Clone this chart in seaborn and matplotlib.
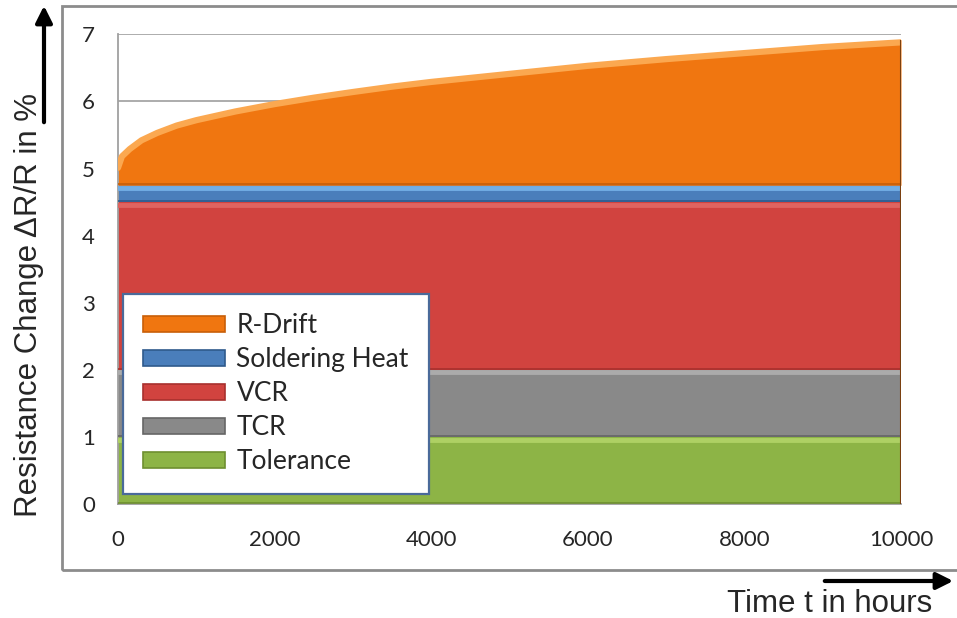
import numpy as np
import matplotlib.pyplot as plt
import seaborn as sns
from matplotlib.patches import Rectangle, Patch

# ---- data ----
hours = [0, 50, 150, 300, 500, 750, 1000, 1500, 2000, 2500, 3000, 3500,
         4000, 5000, 6000, 7000, 8000, 9000, 10000]
tolerance = [1.0, 1.0, 1.0, 1.0, 1.0, 1.0, 1.0, 1.0, 1.0, 1.0, 1.0, 1.0,
             1.0, 1.0, 1.0, 1.0, 1.0, 1.0, 1.0]
tcr = [1.0, 1.0, 1.0, 1.0, 1.0, 1.0, 1.0, 1.0, 1.0, 1.0, 1.0, 1.0,
       1.0, 1.0, 1.0, 1.0, 1.0, 1.0, 1.0]
vcr = [2.5, 2.5, 2.5, 2.5, 2.5, 2.5, 2.5, 2.5, 2.5, 2.5, 2.5, 2.5,
       2.5, 2.5, 2.5, 2.5, 2.5, 2.5, 2.5]
soldering = [0.25, 0.25, 0.25, 0.25, 0.25, 0.25, 0.25, 0.25, 0.25, 0.25, 0.25, 0.25,
             0.25, 0.25, 0.25, 0.25, 0.25, 0.25, 0.25]
r_drift = [0.30, 0.47, 0.58, 0.71, 0.82, 0.93, 1.01, 1.14, 1.25, 1.345, 1.43, 1.51,
           1.58, 1.70, 1.82, 1.92, 2.01, 2.10, 2.17]

series_names = ["Tolerance", "TCR", "VCR", "Soldering Heat", "R-Drift"]
x_tick_values = [0, 1000, 2000, 3000, 4000, 5000, 6000, 7000, 8000, 9000, 10000]
x_tick_labels = ["0", "", "2000", "", "4000", "", "6000", "", "8000", "", "10000"]
y_tick_values = [0, 1, 2, 3, 4, 5, 6, 7]

fill_colors = ["#8DB446", "#898989", "#D1433F", "#4A7EBB", "#F07610"]
edge_colors = ["#6E8F30", "#666666", "#A8302D", "#2F5A8C", "#C85F08"]
light_colors = ["#AED064", "#ABABAB", "#E06460", "#72AEE6", "#FBA850"]

sns.set_theme(style="white")
plt.rcParams["font.family"] = ["Lato", "DejaVu Sans"]

W, H = 957, 618
fig = plt.figure(figsize=(W / 100, H / 100), dpi=100)
ax = fig.add_axes([118 / W, 1 - 504 / H, 783 / W, 469.7 / H])

ax.set_xlim(0, 10000)
ax.set_ylim(0, 7)
ax.set_axisbelow(True)
ax.yaxis.grid(True, color="#A6A6A6", lw=1.3)
ax.xaxis.grid(False)

layers = [tolerance, tcr, vcr, soldering, r_drift]
ax.stackplot(hours, *layers, colors=fill_colors, lw=0, zorder=2)

# bevel-ish highlights on each band
lower = np.zeros(len(hours))
for i, (vals, light, dark) in enumerate(zip(layers, light_colors, edge_colors)):
    upper = lower + np.array(vals)
    top_w = 4.5 if i == len(layers) - 1 else 3.5
    sns.lineplot(x=hours, y=upper - 0.04, color=light, lw=top_w, ax=ax, zorder=3)
    sns.lineplot(x=hours, y=lower + 0.015, color=dark, lw=1.2, ax=ax, zorder=3)
    lower = upper
ax.vlines(10000, 0, lower[-1], color="#7A4010", lw=1.5, zorder=4)

ax.set_xticks(x_tick_values)
ax.set_xticklabels(x_tick_labels)
ax.set_yticks(y_tick_values)
ax.tick_params(axis="both", direction="out", color="#A0A0A0", width=1.3,
               labelsize=16, labelcolor="#262626")
ax.tick_params(axis="y", length=7.5, pad=9)
ax.tick_params(axis="x", length=5.5, pad=13)
for side in ["top", "right"]:
    ax.spines[side].set_visible(False)
for side in ["left", "bottom"]:
    ax.spines[side].set_color("#A0A0A0")
    ax.spines[side].set_linewidth(1.3)
ax.set_xlabel("")
ax.set_ylabel("")

handles = [Patch(facecolor=c, edgecolor=e, lw=1.2)
           for c, e in zip(fill_colors, edge_colors)][::-1]
leg = ax.legend(handles, series_names[::-1], loc="lower left",
                bbox_to_anchor=(123 / W, 1 - 494 / H), bbox_transform=fig.transFigure,
                borderaxespad=0, frameon=True, fancybox=False, framealpha=1,
                edgecolor="#4A6A9A", fontsize=19, handlelength=3.1, handleheight=0.55,
                labelspacing=0.34, borderpad=0.75, handletextpad=0.45)
leg.get_frame().set_linewidth(1.6)
leg.set_zorder(10)

# outer chart border
fig.add_artist(Rectangle((62 / W, 1 - 570 / H), 1.0, 564 / H, transform=fig.transFigure,
                         fill=False, ec="#8C8C8C", lw=2))

# axis titles with arrows
fig.text(29 / W, 1 - 305 / H, "Resistance Change ΔR/R in %", rotation=90,
         ha="center", va="center", fontsize=22.5, family=["Liberation Sans"])
fig.text(830 / W, 1 - 604 / H, "Time t in hours", ha="center", va="center",
         fontsize=22.5, family=["Liberation Sans"])
arrow = dict(arrowstyle="-|>", lw=3, color="black", mutation_scale=25)
ax.annotate("", xy=(44, H - 3), xytext=(44, H - 125), xycoords="figure pixels",
            textcoords="figure pixels", arrowprops=arrow, annotation_clip=False)
ax.annotate("", xy=(956, H - 581), xytext=(822, H - 581), xycoords="figure pixels",
            textcoords="figure pixels", arrowprops=arrow, annotation_clip=False)

fig.savefig("out.png", dpi=100)
